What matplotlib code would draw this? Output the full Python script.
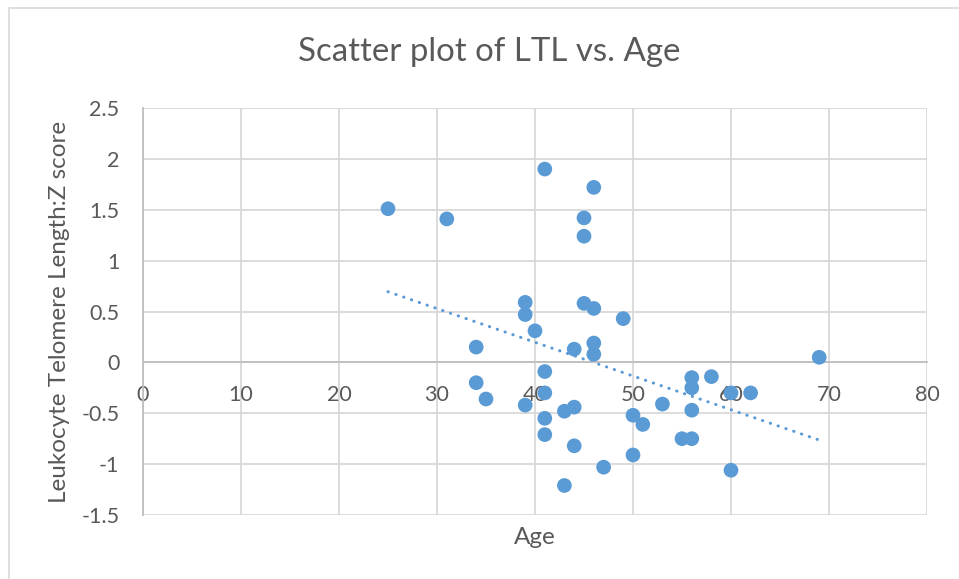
import numpy as np
import matplotlib.pyplot as plt
from matplotlib.patches import Rectangle

# data
age = [25, 31, 41, 46, 45, 45, 39, 39, 45, 46, 49, 40, 46, 46, 44, 34,
       41, 69, 56, 58, 56, 60, 62, 41, 34, 35, 39, 44, 43, 41, 53, 56,
       50, 51, 41, 55, 56, 44, 50, 47, 60, 43]
ltl_z = [1.51, 1.41, 1.90, 1.72, 1.42, 1.24, 0.59, 0.47, 0.58, 0.53, 0.43, 0.31,
         0.19, 0.08, 0.13, 0.15, -0.09, 0.05, -0.15, -0.14, -0.25, -0.30, -0.30,
         -0.30, -0.20, -0.36, -0.42, -0.44, -0.48, -0.55, -0.41, -0.47, -0.52,
         -0.61, -0.71, -0.75, -0.75, -0.82, -0.91, -1.03, -1.06, -1.21]

x_ticks = [0, 10, 20, 30, 40, 50, 60, 70, 80]
y_ticks = [-1.5, -1, -0.5, 0, 0.5, 1, 1.5, 2, 2.5]
y_tick_labels = ['-1.5', '-1', '-0.5', '0', '0.5', '1', '1.5', '2', '2.5']

blue = '#5B9BD5'
txt = '#595959'
grid_c = '#D9D9D9'
axis_c = '#BFBFBF'

plt.rcParams['font.family'] = ['Lato', 'DejaVu Sans']

fig = plt.figure(figsize=(9.59, 5.79), dpi=100)
ax = fig.add_axes([143 / 959, 1 - 515 / 579, (927 - 143) / 959, (515 - 108) / 579])

# chart-area border like Excel
fig.patches.append(Rectangle((9 / 959, -0.1), 1.2, 1.1 - 8 / 579,
                             transform=fig.transFigure, fill=False,
                             edgecolor=grid_c, linewidth=1.2))

ax.set_xlim(0, 80)
ax.set_ylim(-1.5, 2.5)
ax.set_xticks(x_ticks)
ax.set_yticks(y_ticks)
ax.set_yticklabels(y_tick_labels)
ax.grid(True, color=grid_c, linewidth=1.3, zorder=0)
ax.set_axisbelow(True)

for s in ['top', 'right']:
    ax.spines[s].set_visible(False)
ax.spines['left'].set_color(axis_c)
ax.spines['left'].set_linewidth(1.3)
ax.spines['bottom'].set_position(('data', 0))
ax.spines['bottom'].set_color(axis_c)
ax.spines['bottom'].set_linewidth(1.3)
ax.tick_params(length=0, labelsize=15.5, labelcolor=txt)
ax.tick_params(axis='x', pad=16)
ax.tick_params(axis='y', pad=17)

ax.scatter(age, ltl_z, s=112, color=blue, edgecolors='none', zorder=3)

# linear trendline over the data range
a = np.array(age, dtype=float)
coef = np.polyfit(a, ltl_z, 1)
xs = np.array([a.min(), a.max()])
ax.plot(xs, np.polyval(coef, xs), color=blue, linewidth=2.2,
        linestyle=(0, (0.1, 2.6)), dash_capstyle='round', zorder=2)

fig.text(489 / 959, 1 - 52 / 579, 'Scatter plot of LTL vs. Age', ha='center', va='center',
         fontsize=23.8, color=txt)
fig.text(535 / 959, 1 - 537 / 579, 'Age', ha='center', va='center', fontsize=17.5, color=txt)
fig.text(60 / 959, 1 - 312 / 579, 'Leukocyte Telomere Length:Z score', ha='center', va='center',
         rotation=90, fontsize=17.5, color=txt)

fig.savefig('out.png', dpi=100)
